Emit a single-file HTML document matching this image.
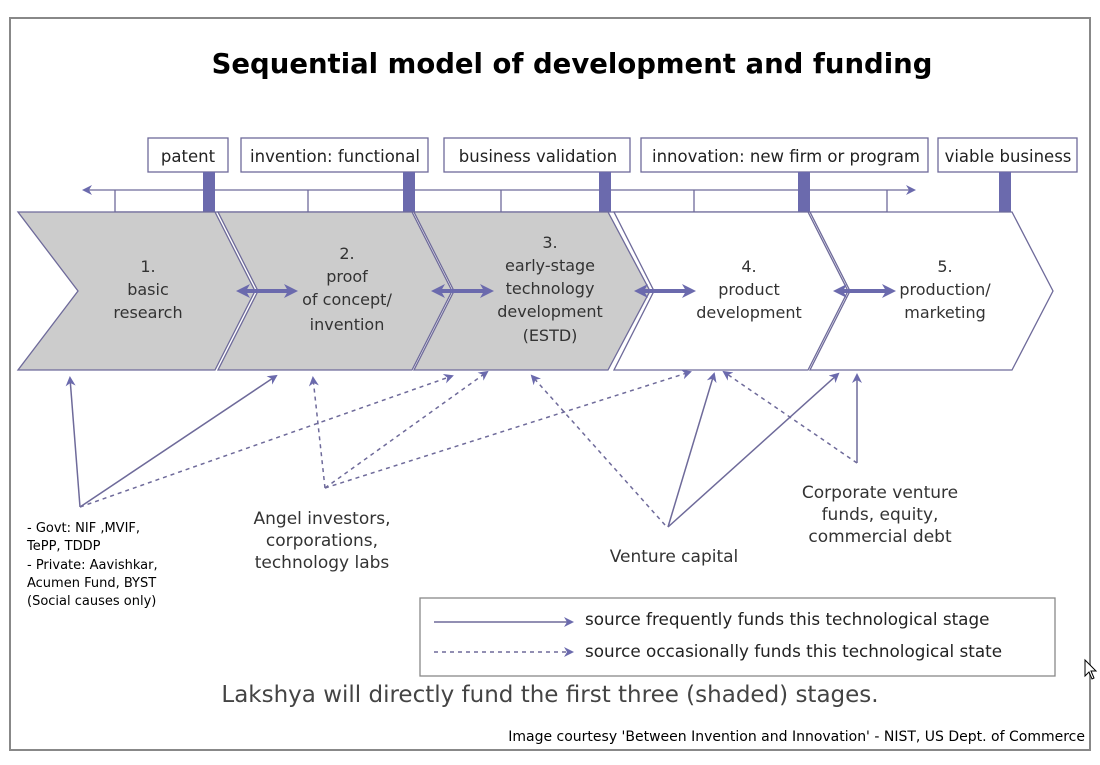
<!DOCTYPE html>
<html><head><meta charset="utf-8"><style>
body{margin:0;background:#fff;width:1100px;height:760px;overflow:hidden;font-family:"Liberation Sans","DejaVu Sans",sans-serif}
svg text{font-family:"DejaVu Sans","Liberation Sans",sans-serif}
</style></head><body>
<svg width="1100" height="760" viewBox="0 0 1100 760">
<defs>
<marker id="ah" markerWidth="10" markerHeight="10" refX="8" refY="5" orient="auto-start-reverse" markerUnits="userSpaceOnUse"><path d="M0,0 L10,5 L0,10 L3,5Z" fill="#6b6aad"/></marker>
<marker id="ahb" markerWidth="14" markerHeight="14" refX="10" refY="7" orient="auto-start-reverse" markerUnits="userSpaceOnUse"><path d="M0,0 L14,7 L0,14 L4,7Z" fill="#6b6aad"/></marker>
</defs>
<rect x="10" y="18" width="1080" height="732" fill="#fff" stroke="#888" stroke-width="2"/>
<text x="572" y="73" text-anchor="middle" font-size="27.5" font-weight="bold" fill="#000">Sequential model of development and funding</text>

<g fill="#fff" stroke="#6e6a9a" stroke-width="1.3">
<rect x="148" y="138" width="80" height="34"/>
<rect x="241" y="138" width="187" height="34"/>
<rect x="444" y="138" width="186" height="34"/>
<rect x="641" y="138" width="287" height="34"/>
<rect x="938" y="138" width="139" height="34"/>
</g>
<g font-size="16.5" fill="#222" text-anchor="middle">
<text x="188" y="162">patent</text>
<text x="335" y="162">invention: functional</text>
<text x="538" y="162">business validation</text>
<text x="786" y="162">innovation: new firm or program</text>
<text x="1008" y="162">viable business</text>
</g>

<g stroke="#6e6a9a" stroke-width="1.3">
<line x1="84" y1="190" x2="914" y2="190" marker-start="url(#ah)" marker-end="url(#ah)"/>
<line x1="115" y1="212" x2="887" y2="212"/>
<line x1="115" y1="190" x2="115" y2="212"/><line x1="308" y1="190" x2="308" y2="212"/>
<line x1="501" y1="190" x2="501" y2="212"/><line x1="694" y1="190" x2="694" y2="212"/>
<line x1="887" y1="190" x2="887" y2="212"/>
</g>
<g fill="#6b6aad">
<rect x="203" y="172" width="12" height="40"/><rect x="403" y="172" width="12" height="40"/>
<rect x="599" y="172" width="12" height="40"/><rect x="798" y="172" width="12" height="40"/>
<rect x="999" y="172" width="12" height="40"/>
</g>

<g stroke="#6e6a9a" stroke-width="1.3">
<polygon points="18,212 215,212 255,291 215,370 18,370 78,291" fill="#cccccc"/>
<polygon points="218,212 412,212 452,291 412,370 218,370 258,291" fill="#cccccc"/>
<polygon points="414,212 608,212 650,291 608,370 414,370 454,291" fill="#cccccc"/>
<polygon points="614,212 808,212 848,291 808,370 614,370 654,291" fill="#fff"/>
<polygon points="810,212 1012,212 1053,291 1012,370 810,370 850,291" fill="#fff"/>
</g>
<g font-size="16" fill="#333" text-anchor="middle">
<text><tspan x="148" y="272">1.</tspan><tspan x="148" y="295">basic</tspan><tspan x="148" y="318">research</tspan></text>
<text><tspan x="347" y="259">2.</tspan><tspan x="347" y="282">proof</tspan><tspan x="347" y="305">of concept/</tspan><tspan x="347" y="330">invention</tspan></text>
<text><tspan x="550" y="248">3.</tspan><tspan x="550" y="271">early-stage</tspan><tspan x="550" y="294">technology</tspan><tspan x="550" y="317">development</tspan><tspan x="550" y="341">(ESTD)</tspan></text>
<text><tspan x="749" y="272">4.</tspan><tspan x="749" y="295">product</tspan><tspan x="749" y="318">development</tspan></text>
<text><tspan x="945" y="272">5.</tspan><tspan x="945" y="295">production/</tspan><tspan x="945" y="318">marketing</tspan></text>
</g>
<g stroke="#6b6aad" stroke-width="4">
<line x1="240" y1="291" x2="294" y2="291" marker-start="url(#ahb)" marker-end="url(#ahb)"/>
<line x1="435" y1="291" x2="490" y2="291" marker-start="url(#ahb)" marker-end="url(#ahb)"/>
<line x1="638" y1="291" x2="692" y2="291" marker-start="url(#ahb)" marker-end="url(#ahb)"/>
<line x1="837" y1="291" x2="892" y2="291" marker-start="url(#ahb)" marker-end="url(#ahb)"/>
</g>

<g stroke="#6e6a9a" stroke-width="1.5" fill="none">
<line x1="80" y1="507" x2="70" y2="378" marker-end="url(#ah)"/>
<line x1="80" y1="507" x2="276" y2="376" marker-end="url(#ah)"/>
<line x1="668" y1="527" x2="714" y2="374" marker-end="url(#ah)"/>
<line x1="668" y1="527" x2="838" y2="374" marker-end="url(#ah)"/>
<line x1="857" y1="463" x2="857" y2="375" marker-end="url(#ah)"/>
</g>
<g stroke="#6e6a9a" stroke-width="1.5" fill="none" stroke-dasharray="4,4">
<line x1="80" y1="507" x2="452" y2="376" marker-end="url(#ah)"/>
<line x1="325" y1="488" x2="313" y2="378" marker-end="url(#ah)"/>
<line x1="325" y1="488" x2="487" y2="372" marker-end="url(#ah)"/>
<line x1="325" y1="488" x2="690" y2="372" marker-end="url(#ah)"/>
<line x1="665" y1="525" x2="532" y2="376" marker-end="url(#ah)"/>
<line x1="857" y1="463" x2="724" y2="372" marker-end="url(#ah)"/>
</g>

<g font-size="13" fill="#000">
<text x="27" y="532">- Govt: NIF ,MVIF,</text><text x="27" y="550">TePP, TDDP</text>
<text x="27" y="569">- Private: Aavishkar,</text><text x="27" y="587">Acumen Fund, BYST</text>
<text x="27" y="605">(Social causes only)</text>
</g>
<g font-size="17" fill="#333" text-anchor="middle">
<text><tspan x="322" y="524">Angel investors,</tspan><tspan x="322" y="546">corporations,</tspan><tspan x="322" y="568">technology labs</tspan></text>
<text x="674" y="562">Venture capital</text>
<text><tspan x="880" y="498">Corporate venture</tspan><tspan x="880" y="520">funds, equity,</tspan><tspan x="880" y="542">commercial debt</tspan></text>
</g>

<g>
<rect x="420" y="598" width="635" height="78" fill="#fff" stroke="#888" stroke-width="1.3"/>
<line x1="434" y1="622" x2="572" y2="622" stroke="#6e6a9a" stroke-width="1.5" marker-end="url(#ah)"/>
<line x1="434" y1="652" x2="572" y2="652" stroke="#6e6a9a" stroke-width="1.5" stroke-dasharray="4,4" marker-end="url(#ah)"/>
<text x="585" y="625" font-size="16.8" fill="#222">source frequently funds this technological stage</text>
<text x="585" y="657" font-size="16.8" fill="#222">source occasionally funds this technological state</text>
</g>
<text x="550" y="702" text-anchor="middle" font-size="23" fill="#444">Lakshya will directly fund the first three (shaded) stages.</text>
<text x="1085" y="741" text-anchor="end" font-size="14" fill="#000">Image courtesy 'Between Invention and Innovation' - NIST, US Dept. of Commerce</text>
<path d="M1085,660 L1085,676 L1089,672 L1092,679 L1094,678 L1091,671 L1096,671Z" fill="#fff" stroke="#000" stroke-width="1"/>
</svg>
</body></html>
